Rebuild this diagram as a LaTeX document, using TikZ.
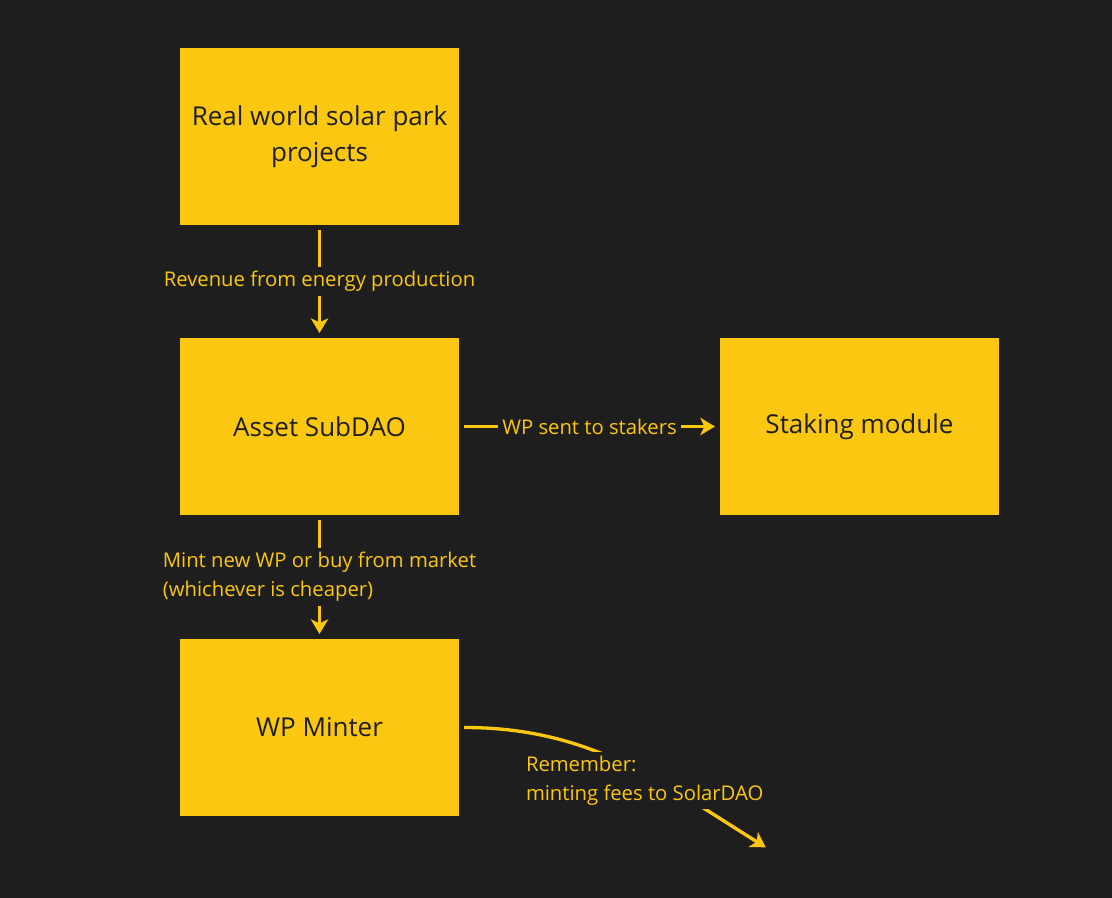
\documentclass[tikz,border=0pt]{standalone}
\usepackage{fontspec}
\setmainfont{Open Sans}
\usepackage{tikz}
\usetikzlibrary{arrows.meta,positioning}

\definecolor{bg}{HTML}{1E1E1E}
\definecolor{sun}{HTML}{FBC711}

\begin{document}
\begin{tikzpicture}[x=0.75pt,y=0.75pt,->,>={Stealth[length=11pt,width=13pt,inset=3pt]},line width=2.5pt,
    shorten >=3.75pt,shorten <=3.75pt,
    box node/.style={rectangle,fill=sun,draw=none,outer sep=0pt,minimum width=209.25pt,minimum height=132.75pt,
      align=center,text=bg,font=\fontsize{19.5}{27}\selectfont},
    edge label/.style={fill=bg,text=sun,inner sep=3pt,font=\fontsize{15.2}{22}\selectfont}]

  \fill[bg] (0,0) rectangle (1112,898);

  \node[box node]   (park) at (319.5,761.5) {Real world solar park\\projects};
  \node[box node]   (sub)  [below=84.75pt of park] {Asset SubDAO};
  \node[box node]   (stake) [right=195.75pt of sub] {Staking module};
  \node[box node]   (mint) [below=93pt of sub] {WP Minter};
  \coordinate (fees) at (770,48);

  \path[draw,color=sun] (park) edge node[edge label] {Revenue from energy production} (sub)
        (sub) edge node[edge label] {WP sent to stakers} (stake)
        (sub) edge node[edge label,align=left] {Mint new WP or buy from market\\(whichever is cheaper)} (mint)
        (mint) edge [out=0,in=148] node[edge label,align=left,pos=.58,yshift=-5pt] {Remember:\\minting fees to SolarDAO} (fees);

\end{tikzpicture}
\end{document}
